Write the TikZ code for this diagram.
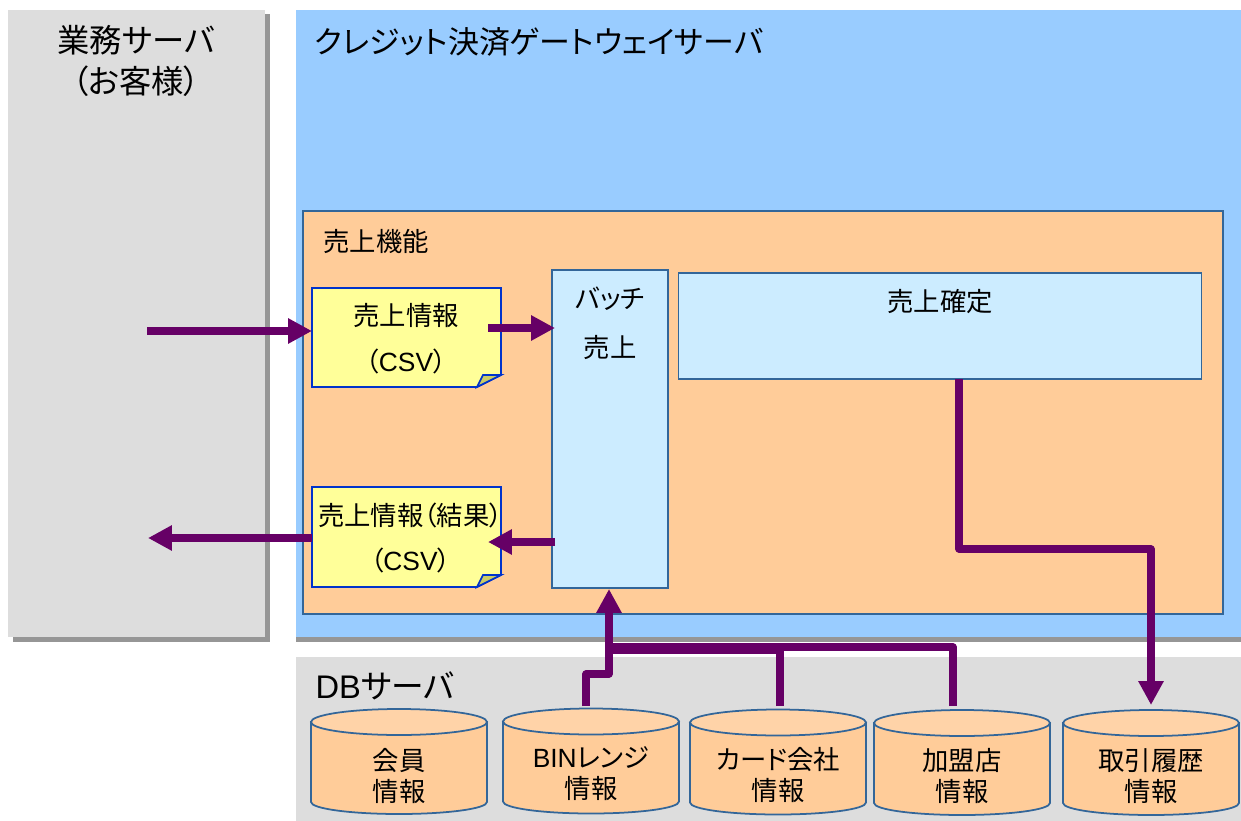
\documentclass[tikz,border=0pt]{standalone}
\usepackage{fontspec}
\setmainfont{Liberation Sans}
\newfontfamily\jp[RawFeature=+palt]{Noto Sans CJK JP}
\usetikzlibrary{arrows.meta,calc}

\definecolor{bluepanel}{HTML}{99CCFF}
\definecolor{peach}{HTML}{FFCC99}
\definecolor{peachtop}{HTML}{FFD3A8}
\definecolor{lightblue}{HTML}{CCECFF}
\definecolor{notefill}{HTML}{FFFF99}
\definecolor{noteline}{HTML}{0033CC}
\definecolor{foldfill}{HTML}{CCCC66}
\definecolor{grayback}{HTML}{DDDDDD}
\definecolor{grayshadow}{HTML}{969696}
\definecolor{edgeblue}{HTML}{336699}
\definecolor{flow}{HTML}{660066}

\newcommand{\pxu}{0.02cm}

\tikzset{
    area/.style = {rectangle, inner sep = 0pt, outer sep = 0pt},
    box/.style = {area, draw = edgeblue, line width = 1pt},
    notebox/.style = {area, align = center, font = \fontsize{15}{26}\selectfont\jp},
    dbarea/.style = {area, minimum width = 176*\pxu, minimum height = 105*\pxu},
    dbline/.style = {draw = edgeblue, line width = 1pt},
    dbtext/.style = {align = center, inner sep = 0pt, font = \fontsize{15}{17.6}\selectfont\jp},
    small/.style = {inner sep = 0pt, font = \fontsize{15}{18}\selectfont\jp},
    big/.style = {inner sep = 0pt, font = \fontsize{17.6}{23}\selectfont\jp},
    flowline/.style = {draw = flow, line width = 4pt, line join = round,
        -{Triangle[length=13.6pt,width=13.6pt]}},
    flowplain/.style = {draw = flow, line width = 4pt, line join = round},
}

\newcommand{\foldnote}[1]{
    \draw[noteline, fill = notefill, line width = 1pt]
        (#1.north west) -- (#1.north east) -- ($(#1.south east)+(0,-12)$)
        -- ($(#1.south east)+(-24,0)$) -- (#1.south west) -- cycle;
    \draw[noteline, fill = foldfill, line width = 1pt]
        ($(#1.south east)+(-24,0)$) -- ($(#1.south east)+(-18,-12)$)
        -- ($(#1.south east)+(0,-12)$) -- cycle;
}

\newcommand{\dbcan}[1]{
    \draw[dbline, fill = peach]
        ($(#1.north west)+(0,13)$) -- ($(#1.south west)+(0,-12)$)
        arc[start angle = 180, end angle = 0, x radius = 88, y radius = 12]
        -- ($(#1.north east)+(0,13)$) -- cycle;
    \draw[dbline, fill = peachtop] ($(#1.north)+(0,13)$) ellipse[x radius = 88, y radius = 13];
}

\begin{document}
\begin{tikzpicture}[x=\pxu, y=-\pxu]

    \useasboundingbox (0,0) rectangle (1241,821);

    % panels
    \node[area, fill = grayshadow, minimum width = 257*\pxu, minimum height = 627*\pxu] (hostshadow) at (141.5,328) {};
    \node[area, fill = grayback, minimum width = 257*\pxu, minimum height = 627*\pxu] (host) at (136.5,323.5) {};

    \node[area, fill = grayshadow, minimum width = 945*\pxu, minimum height = 631*\pxu] (gateshadow) at (768.5,326) {};
    \node[area, fill = bluepanel, minimum width = 945*\pxu, minimum height = 627*\pxu] (gate) at (768.5,323.5) {};

    \node[area, fill = grayback, minimum width = 945*\pxu, minimum height = 164*\pxu] (dbpanel) at (768.5,739) {};

    \node[box, fill = peach, minimum width = 920*\pxu, minimum height = 403*\pxu] (sales) at (763,412.5) {};

    % titles
    \node[big, align = center, font = \fontsize{18.4}{23.5}\selectfont\jp] (hosttitle) at (136,61) {業務サーバ\\（お客様）};
    \node[big] (gatetitle) at (539,42) {クレジット決済ゲートウェイサーバ};
    \node[small] (salestitle) at (376,241) {売上機能};
    \node[big, font = \fontsize{18.6}{23}\selectfont\jp] (dbtitle) at (385,686) {{\normalfont DB}サーバ};

    % inner boxes
    \node[box, fill = lightblue, minimum width = 116*\pxu, minimum height = 318*\pxu] (batch) at (610,429) {};
    \node[box, fill = lightblue, minimum width = 523*\pxu, minimum height = 106*\pxu] (confirm) at (940,326) {};

    \node[small] (batchtop) at (610,299) {バッチ};
    \node[small] (batchlow) at (610,347) {売上};
    \node[small] (confirmtext) at (940,302) {売上確定};

    % notes
    \node[area, minimum width = 189*\pxu, minimum height = 99*\pxu] (inn) at (406.5,337.5) {};
    \node[area, minimum width = 189*\pxu, minimum height = 100*\pxu] (outn) at (406.5,537) {};
    \foldnote{inn}
    \foldnote{outn}
    \node[notebox] (inntext) at (406,339) {売上情報\\（{\normalfont CSV}）};
    \node[notebox] (outntext) at (410.5,538) {売上情報（結果）\\（{\normalfont CSV}）};

    % db
    \node[dbarea] (member) at (399,761.5) {};
    \node[dbarea] (bin) at (591,761) {};
    \node[dbarea] (card) at (778,762) {};
    \node[dbarea] (shop) at (962,762.5) {};
    \node[dbarea] (history) at (1151,762.5) {};
    \dbcan{member}
    \dbcan{bin}
    \dbcan{card}
    \dbcan{shop}
    \dbcan{history}

    \node[dbtext] (membertext) at (399,776) {会員\\情報};
    \node[dbtext] (bintext) at (591,774) {{\normalfont BIN}レンジ\\情報};
    \node[dbtext] (cardtext) at (778,775) {カード会社\\情報};
    \node[dbtext] (shoptext) at (962,776) {加盟店\\情報};
    \node[dbtext] (historytext) at (1151,776) {取引履歴\\情報};

    % flow ends
    \coordinate (infrom) at (147,331);
    \coordinate (outto) at (148,538);
    \coordinate (innout) at (488,328);
    \coordinate (innend) at (555,328);
    \coordinate (outnin) at (488,542);
    \coordinate (outnfrom) at (555,542);
    \coordinate (binout) at (586,706);
    \coordinate (cardout) at (780,706);
    \coordinate (shopout) at (953,706);
    \coordinate (historyin) at (1151,705);
    \coordinate (confirmout) at (959,379);

    \draw[flowline] (infrom) -- (infrom -| inn.west);
    \draw[flowline] (innout) -- (innend);
    \draw[flowline] (outnfrom) -- (outnin);
    \draw[flowline] (outto -| outn.west) -- (outto);

    \draw[flowplain] (cardout) -- (780,650) -- (612,650);
    \draw[flowplain] (shopout) -- (953,647) -- (612,647);
    \draw[flowline] (binout) -- (586,674) -- (609,674) -- (609,589);
    \draw[flowline] (confirmout) -- (959,549) -- (1151,549) -- (historyin);

\end{tikzpicture}
\end{document}
